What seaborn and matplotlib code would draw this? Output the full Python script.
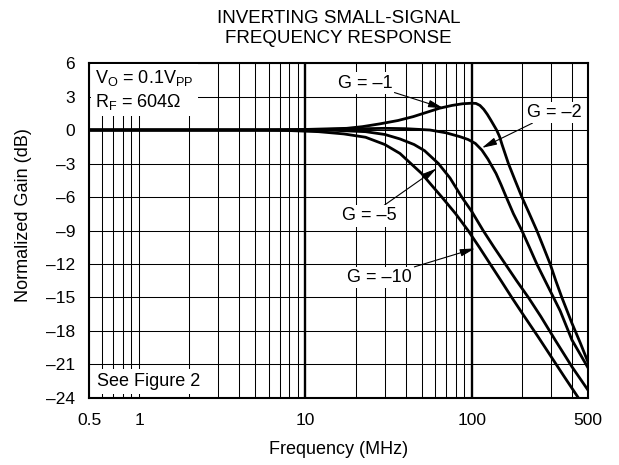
import pandas as pd
import matplotlib
matplotlib.use('Agg')
import matplotlib.pyplot as plt
from matplotlib.ticker import NullFormatter
import seaborn as sns

# frequency (MHz) and normalized gain (dB)
freq_g1 = [0.5, 2, 5, 10, 17.7, 22, 28, 36, 44.5, 54, 64, 76, 88, 100, 106, 112, 118, 124, 130,
           136, 141, 147, 152, 166, 182, 200, 222, 246, 270, 296, 320, 348, 400, 450, 500]
gain_g1 = [0, 0, 0, 0.05, 0.15, 0.3, 0.55, 0.85, 1.2, 1.6, 1.95, 2.2, 2.35, 2.4, 2.38, 2.2, 1.85,
           1.4, 0.9, 0.4, 0.0, -0.6, -1.3, -3.0, -4.5, -6.0, -7.5, -9.0, -10.5, -12.0, -13.5,
           -15.0, -17.3, -19.1, -20.8]

freq_g2 = [0.5, 5, 10, 20, 30, 40, 56, 70, 85, 95, 105, 115, 125, 140, 150, 160, 178, 200, 222,
           246, 276, 310, 340, 400, 500]
gain_g2 = [0, 0, 0.02, 0.1, 0.15, 0.12, 0, -0.25, -0.6, -0.85, -1.2, -1.8, -2.6, -3.9, -4.9, -5.9,
           -7.5, -9.0, -10.5, -12.0, -13.5, -15.0, -16.2, -18.8, -21.3]

freq_g5 = [0.5, 5, 10, 15, 23, 30, 37, 45, 52, 63, 74, 87, 100, 117, 136, 159, 186, 219,
           260, 320, 400, 500]
gain_g5 = [0, 0, 0, -0.03, -0.15, -0.4, -0.8, -1.3, -1.85, -3.0, -4.3, -6.0, -7.3, -9.0, -10.5,
           -12.0, -13.5, -15.0, -16.7, -18.9, -21.2, -23.3]

freq_g10 = [0.5, 5, 8, 12, 17, 23, 30, 37, 43, 50, 57, 66, 80, 95, 111, 129, 150, 174,
            205, 250, 300, 360, 438]
gain_g10 = [0, 0, -0.05, -0.15, -0.35, -0.65, -1.3, -2.1, -3.0, -3.9, -4.9, -6.0, -7.5, -9.0,
            -10.5, -12.0, -13.5, -15.0, -16.6, -18.5, -20.3, -22.1, -24.0]

curve_names = ['G = –1', 'G = –2', 'G = –5', 'G = –10']

x_major = [0.5, 1, 10, 100, 500]
x_major_labels = ['0.5', '1', '10', '100', '500']
x_minor = [0.6, 0.7, 0.8, 0.9, 2, 3, 4, 5, 6, 7, 8, 9,
           20, 30, 40, 50, 60, 70, 80, 90, 200, 300, 400]
y_ticks = [6, 3, 0, -3, -6, -9, -12, -15, -18, -21, -24]
y_labels = ['6', '3', '0', '–3', '–6', '–9', '–12', '–15', '–18', '–21', '–24']

frames = []
for name, f, g in zip(curve_names,
                      [freq_g1, freq_g2, freq_g5, freq_g10],
                      [gain_g1, gain_g2, gain_g5, gain_g10]):
    frames.append(pd.DataFrame({'freq': f, 'gain': g, 'curve': name}))
df = pd.concat(frames, ignore_index=True)

plt.rcParams['font.family'] = ['Liberation Sans', 'DejaVu Sans']
plt.rcParams['font.size'] = 13

fig = plt.figure(figsize=(6.19, 4.65), dpi=100)
ax = fig.add_axes([0.1438, 0.1441, 0.8062, 0.7204])

sns.lineplot(data=df, x='freq', y='gain', hue='curve', palette=['black'] * 4,
             linewidth=2, estimator=None, sort=False, legend=False, ax=ax, zorder=4)

ax.set_xscale('log')
ax.set_xlim(0.5, 500)
ax.set_ylim(-24, 6)
ax.set_xticks(x_major)
ax.set_xticklabels(x_major_labels)
ax.set_xticks(x_minor, minor=True)
ax.xaxis.set_minor_formatter(NullFormatter())
ax.set_yticks(y_ticks)
ax.set_yticklabels(y_labels)
ax.tick_params(which='both', length=0, labelsize=12.5)
ax.tick_params(axis='y', pad=10)
ax.tick_params(axis='x', pad=11)

ax.set_axisbelow(True)
ax.grid(which='both', axis='x', color='black', linewidth=0.75)
ax.grid(which='major', axis='y', color='black', linewidth=0.75)
for tick, val in zip(ax.xaxis.get_major_ticks(), x_major):
    if val in (10, 100):
        tick.gridline.set_linewidth(1.7)

for sp in ax.spines.values():
    sp.set_linewidth(1.5)
    sp.set_color('black')

ax.set_xlabel('Frequency (MHz)', fontsize=13)
ax.set_ylabel('Normalized Gain (dB)', fontsize=13)
ax.xaxis.set_label_coords(0.5, -0.128)
ax.yaxis.set_label_coords(-0.115, 0.546)
ax.set_title('INVERTING SMALL-SIGNAL\nFREQUENCY RESPONSE', fontsize=13.5, pad=14.5,
             linespacing=1.2)

# curve call-outs
arrow = dict(arrowstyle='-|>,head_length=0.9,head_width=0.22', color='black',
             linewidth=0.8, shrinkA=0, shrinkB=0, mutation_scale=10)
box = dict(facecolor='white', edgecolor='none', pad=1.5)
callouts = [
    ('G = –1', (67.5, 1.95), (22.8, 4.2)),
    ('G = –2', (115, -1.6), (313, 1.57)),
    ('G = –5', (61.5, -3.44), (24.1, -7.7)),
    ('G = –10', (104.7, -10.6), (28, -13.2)),
]
for label, tip, pos in callouts:
    ax.annotate(label, xy=tip, xytext=pos, ha='center', va='center', fontsize=13,
                bbox=box, arrowprops=arrow, zorder=5)

ax.text(0.012, 0.985,
        r'V$_\mathregular{O}$ = 0.1V$_\mathregular{PP}$' + '\n' + r'R$_\mathregular{F}$ = 604Ω',
        transform=ax.transAxes, ha='left', va='top', fontsize=13, linespacing=1.25,
        bbox=dict(facecolor='white', edgecolor='none', pad=3), zorder=5)
ax.text(0.016, 0.05, 'See Figure 2', transform=ax.transAxes, ha='left', va='center',
        fontsize=13, bbox=dict(facecolor='white', edgecolor='none', pad=3), zorder=5)

fig.savefig('out.png', dpi=100)
